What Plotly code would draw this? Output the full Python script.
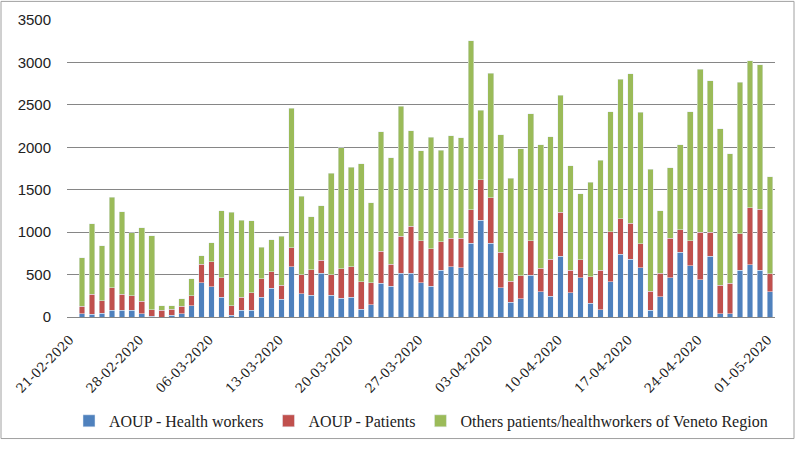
import plotly.graph_objects as go
import datetime as dt

start = dt.date(2020, 2, 21)
dates = [(start + dt.timedelta(days=i)).strftime("%d-%m-%Y") for i in range(71)]

# cumulative tops (blue, red, green tops)
blue_top = [0, 38, 30, 46, 77, 77, 77, 38, 8, 0, 19, 38, 134, 402, 356, 230, 19, 77, 77, 230, 337, 211,
            594, 276, 257, 513, 257, 222, 230, 92, 142, 398, 360, 513, 513, 406, 360, 552, 594, 582,
            869, 1141, 869, 345, 172, 218, 490, 295, 245, 716, 287, 460, 165, 84, 414, 739, 678, 582,
            77, 237, 460, 766, 605, 440, 716, 38, 38, 552, 613, 552, 299]
red_top = [0, 126, 268, 191, 345, 268, 249, 184, 84, 77, 92, 126, 249, 620, 651, 460, 130, 230, 287, 452, 536, 375,
           816, 498, 559, 666, 498, 567, 590, 414, 406, 774, 620, 950, 1072, 896, 804, 885, 931, 927,
           1264, 1616, 1406, 766, 421, 486, 900, 575, 682, 1237, 552, 674, 475, 552, 1007, 1157, 1103, 866,
           306, 517, 927, 1030, 896, 996, 996, 375, 398, 980, 1287, 1272, 509]
green_top = [0, 697, 1099, 839, 1413, 1241, 992, 1049, 957, 130, 130, 218, 448, 724, 877, 1252, 1233, 1141, 1137, 820, 908, 950,
             2459, 1425, 1180, 1314, 1693, 1992, 1766, 1808, 1348, 2183, 1877, 2482, 2195, 1957, 2118, 1965, 2137, 2114,
             3256, 2436, 2873, 2145, 1635, 1984, 2398, 2030, 2126, 2616, 1781, 1455, 1586, 1846, 2421, 2804, 2865, 2413,
             1743, 1252, 1758, 2030, 2421, 2922, 2784, 2221, 1926, 2765, 3022, 2972, 1651]

health_workers = blue_top
patients = [r - b for r, b in zip(red_top, blue_top)]
others = [g - r for g, r in zip(green_top, red_top)]

tick_labels = dates[::7]

fig = go.Figure()
fig.add_bar(x=dates, y=health_workers, name="AOUP - Health workers", marker_color="#4F81BD")
fig.add_bar(x=dates, y=patients, name="AOUP - Patients", marker_color="#C0504D")
fig.add_bar(x=dates, y=others, name="Others patients/healthworkers of Veneto Region", marker_color="#9BBB59")

L, R, T, B = 67, 25, 20, 127
W, H = 800, 450
pw, ph = W - L - R, H - T - B

fig.update_layout(
    width=W, height=H, barmode="stack", bargap=0.43,
    margin=dict(l=L, r=R, t=T, b=B, pad=0),
    plot_bgcolor="white", paper_bgcolor="white",
    xaxis=dict(type="category", tickmode="array", tickvals=tick_labels, ticktext=tick_labels,
               tickangle=-45, showgrid=False, showline=True, linecolor="#868686", linewidth=1,
               ticks="", tickfont=dict(family="DejaVu Serif", size=13, color="#222"),
               automargin=False, ticklabelstandoff=9, ticklabelshift=-2),
    yaxis=dict(range=[0, 3500], dtick=500, showgrid=True, gridcolor="#868686", gridwidth=1,
               zeroline=False, showline=False, ticks="", ticklen=0, automargin=False,
               ticklabelstandoff=15,
               tickfont=dict(family="Liberation Sans", size=15, color="#222")),
    legend=dict(orientation="h", x=0.5, xanchor="center",
                y=(T + ph - 429) / ph, yanchor="middle",
                font=dict(family="Liberation Serif", size=16, color="#222"),
                traceorder="normal", itemwidth=30),
    showlegend=True,
)

fig.add_shape(type="rect", xref="paper", yref="paper",
              x0=(1 - L) / pw, x1=(794 - L) / pw,
              y0=(T + ph - 447) / ph, y1=(T + ph - 1) / ph,
              line=dict(color="#A0A0A0", width=1), layer="below")

fig.write_html("out.html", config={"displayModeBar": False},
               post_script="document.body.style.margin='0';document.body.style.overflow='hidden';")
